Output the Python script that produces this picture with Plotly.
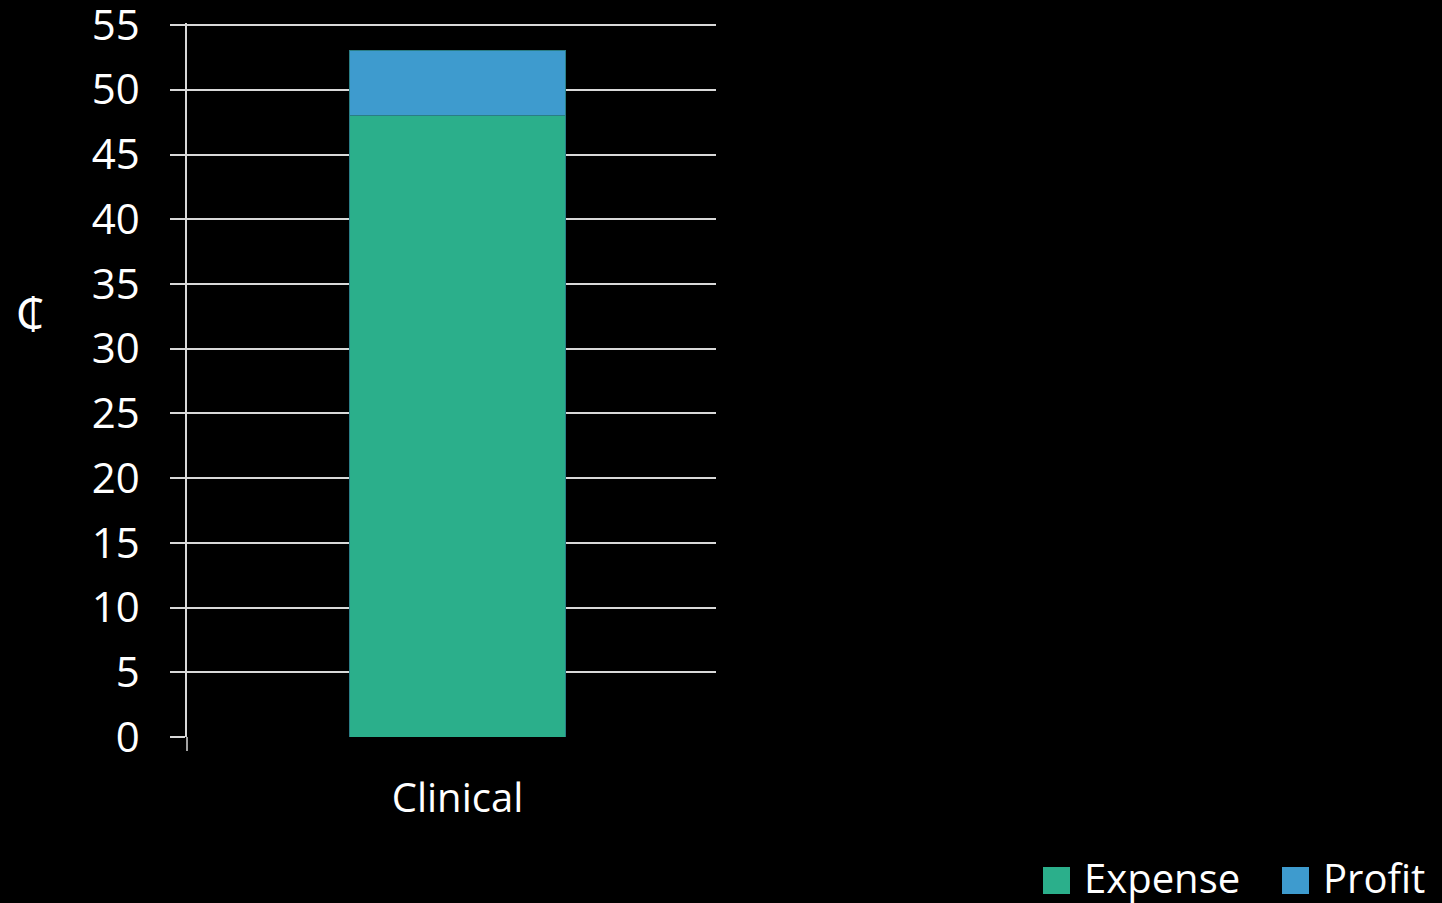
import plotly.graph_objects as go

# Chart data
categories = ["Clinical"]
series_names = ["Expense", "Profit"]
expense = [48]
profit = [5]
series_colors = ["#2BAF8B", "#3E9BCE"]
y_ticks = [0, 5, 10, 15, 20, 25, 30, 35, 40, 45, 50, 55]
currency_label = "₵"

FONT = "Open Sans, Noto Sans, sans-serif"
GRID = "#D9D9D9"
Y_MAX = 55.16
PLOT_H = 714

fig = go.Figure()
for name, vals, col in zip(series_names, [expense, profit], series_colors):
    fig.add_trace(go.Bar(
        x=categories, y=vals, name=name,
        marker=dict(color=col, line=dict(color="#2A7E86", width=1)),
        width=0.41, showlegend=False,
    ))

fig.update_layout(
    barmode="stack",
    width=1442, height=903,
    paper_bgcolor="black", plot_bgcolor="black",
    margin=dict(l=187, r=726, t=23, b=166, pad=0, autoexpand=False),
    font=dict(family=FONT, color="white", size=40),
    xaxis=dict(
        range=[-0.5113, 0.4887], automargin=False,
        showgrid=False, zeroline=False, showline=False,
        ticks="", tickfont=dict(size=40, color="white"),
        ticklabelstandoff=34,
    ),
    yaxis=dict(
        range=[0, Y_MAX], tickvals=y_ticks, automargin=False,
        showgrid=True, gridcolor=GRID, gridwidth=1.5,
        zeroline=False,
        showline=True, linecolor=GRID, linewidth=1.5,
        ticks="outside", ticklen=15, tickcolor=GRID, tickwidth=1.5,
        tickfont=dict(size=42, color="white"),
        ticklabelstandoff=22, ticklabeloverflow="allow",
    ),
)

# vertical axis line continues a little below the baseline
fig.add_shape(type="line", xref="paper", yref="paper",
              x0=0, x1=0, y0=0, y1=-14 / PLOT_H,
              line=dict(color=GRID, width=1.5))

# currency unit beside the value axis
fig.add_annotation(text=currency_label, xref="paper", yref="paper",
                   x=-157 / 529, y=(737 - 312) / PLOT_H,
                   xanchor="center", yanchor="middle", showarrow=False,
                   font=dict(size=44, color="white", family=FONT))

# legend entries along the bottom right
legend_x = [1043, 1282]
for name, col, lx in zip(series_names, series_colors, legend_x):
    fig.add_shape(type="rect", xref="paper", yref="paper",
                  x0=(lx - 187) / 529, x1=(lx + 27 - 187) / 529,
                  y0=(737 - 894) / PLOT_H, y1=(737 - 867) / PLOT_H,
                  fillcolor=col, line=dict(width=0))
    fig.add_annotation(text=name, xref="paper", yref="paper",
                       x=(lx + 39 - 187) / 529, y=(737 - 877) / PLOT_H,
                       xanchor="left", yanchor="middle", showarrow=False,
                       font=dict(size=40, color="white", family=FONT))

fig.write_html("out.html")
